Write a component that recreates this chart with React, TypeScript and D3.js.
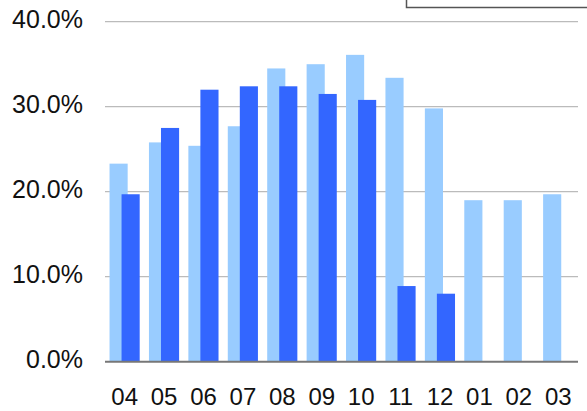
import React from "react";
import * as d3 from "d3";

const categories = ["04", "05", "06", "07", "08", "09", "10", "11", "12", "01", "02", "03"];
const seriesA = [0.233, 0.258, 0.254, 0.277, 0.345, 0.350, 0.361, 0.334, 0.298, 0.190, 0.190, 0.197];
const seriesB: (number | null)[] = [0.197, 0.275, 0.320, 0.324, 0.324, 0.315, 0.308, 0.089, 0.080, null, null, null];
const yTicks = [0, 0.1, 0.2, 0.3, 0.4];

const W = 587;
const H = 411;
const FONT = "'Liberation Sans', Arial, sans-serif";

export default function App() {
  const x = d3.scaleBand<string>().domain(categories).range([105, 578]).padding(0);
  const y = d3.scaleLinear().domain([0, 0.4]).range([361.7, 21.7]);
  const bw = x.bandwidth();
  const fmt = d3.format(".1%");

  return (
    <svg
      width={W}
      height={H}
      style={{ position: "absolute", left: 0, top: 0, background: "#fff" }}
    >
      {/* gridlines */}
      {yTicks.slice(1).map((t) => (
        <line key={t} x1={105} x2={578} y1={y(t)} y2={y(t)} stroke="#bbbbbb" strokeWidth={1.2} />
      ))}
      {/* y tick labels */}
      {yTicks.map((t) => (
        <text
          key={"l" + t}
          x={83}
          y={y(t) + 6.5}
          textAnchor="end"
          fontFamily={FONT}
          fontSize={25}
          fill="#111"
        >
          {fmt(t)}
        </text>
      ))}
      {/* bars */}
      {categories.map((c, i) => (
        <g key={c}>
          <rect
            x={(x(c) ?? 0) + bw * 0.115}
            y={y(seriesA[i])}
            width={bw * 0.46}
            height={y(0) - y(seriesA[i])}
            fill="#99ccff"
          />
          {seriesB[i] != null && (
            <rect
              x={(x(c) ?? 0) + bw * 0.42}
              y={y(seriesB[i] as number)}
              width={bw * 0.46}
              height={y(0) - y(seriesB[i] as number)}
              fill="#3366ff"
            />
          )}
        </g>
      ))}
      {/* baseline */}
      <line x1={105} x2={578} y1={y(0)} y2={y(0)} stroke="#777" strokeWidth={2} />
      {/* x labels */}
      {categories.map((c) => (
        <text
          key={"x" + c}
          x={(x(c) ?? 0) + bw / 2}
          y={405}
          textAnchor="middle"
          fontFamily={FONT}
          fontSize={24}
          fill="#111"
        >
          {c}
        </text>
      ))}
      {/* legend frame */}
      <rect x={406.5} y={-20} width={200} height={27.5} fill="#fff" stroke="#555" strokeWidth={1.5} />
    </svg>
  );
}
